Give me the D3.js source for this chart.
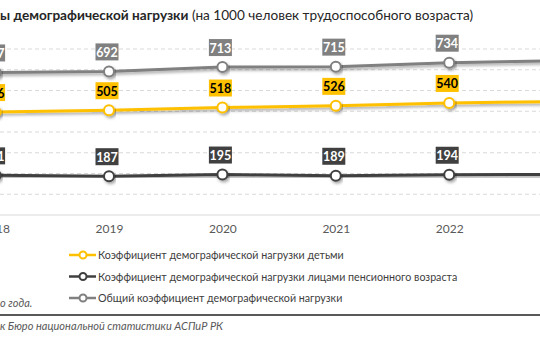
<!DOCTYPE html>
<html><head><meta charset="utf-8">
<script src="https://cdn.jsdelivr.net/npm/d3@7"></script>
<style>body{margin:0;background:#fff}svg{display:block}text{font-family:Lato,"Open Sans",sans-serif}</style>
</head><body><div id="c"></div>
<script>
const years = ["2018","2019","2020","2021","2022","2023"];
const childValues = [496, 505, 518, 526, 540, 547];
const pensionValues = [191, 187, 195, 189, 194, 196];
const totalValues = [687, 692, 713, 715, 734, 743];
const yTicks = [100,200,300,400,500,600,700,800];
const seriesNames = ["Коэффициент демографической нагрузки детьми","Коэффициент демографической нагрузки лицами пенсионного возраста","Общий коэффициент демографической нагрузки"];
const seriesColors = ["#ffc000","#404040","#808080"];
const labelText = ["#000","#fff","#fff"];

const W=540,H=338;
const svg=d3.select("#c").append("svg").attr("width",W).attr("height",H);
const defs=svg.append("defs");
const f=defs.append("filter").attr("id","sh").attr("x","-20%").attr("y","-50%").attr("width","140%").attr("height","200%");
f.append("feDropShadow").attr("dx",1.5).attr("dy",2).attr("stdDeviation",1.5).attr("flood-color","#000").attr("flood-opacity",0.35);

const x=d3.scalePoint().domain(years).range([-4.4,562.6]);
const y=d3.scaleLinear().domain([0,800]).range([215,49]);

// title
const t=svg.append("text").attr("x",0).attr("y",20).attr("font-size",13.6).attr("fill","#262626");
t.append("tspan").attr("font-weight","bold").text("ы демографической нагрузки");
t.append("tspan").text(" (на 1000 человек трудоспособного возраста)");

// gridlines
svg.append("g").selectAll("line").data(yTicks).join("line")
 .attr("x1",0).attr("x2",W).attr("y1",d=>y(d)).attr("y2",d=>y(d))
 .attr("stroke","#d9d9d9").attr("stroke-dasharray","4,3");
// x axis
const xa=svg.append("g").attr("transform",`translate(0,${y(0)})`).call(d3.axisBottom(x).tickSize(0).tickPadding(9));
xa.select(".domain").attr("stroke","#d9d9d9").attr("d",`M0,0H${W}`);
xa.selectAll("text").attr("font-size",12).attr("fill","#595959").attr("font-family","Lato,sans-serif");

const series=[childValues,pensionValues,totalValues];
const line=d3.line().x((d,i)=>x(years[i])).y(d=>y(d));
series.forEach((vals,s)=>{
  const g=svg.append("g");
  g.append("path").datum(vals).attr("d",line).attr("fill","none").attr("stroke",seriesColors[s]).attr("stroke-width",3).attr("filter","url(#sh)");
  g.selectAll("circle").data(vals).join("circle").attr("cx",(d,i)=>x(years[i])).attr("cy",d=>y(d)).attr("r",5)
   .attr("fill","#fff").attr("stroke",seriesColors[s]).attr("stroke-width",2).attr("filter","url(#sh)");
  const lb=g.selectAll("g.lb").data(vals).join("g").attr("class","lb").attr("transform",(d,i)=>`translate(${x(years[i])-2},${y(d)-19})`);
  lb.append("rect").attr("x",-11.5).attr("y",-9).attr("width",23).attr("height",17).attr("fill",seriesColors[s]);
  lb.append("text").attr("text-anchor","middle").attr("y",4.5).attr("font-size",12.5).attr("font-weight","bold").attr("fill",labelText[s]).text(d=>d);
});

// legend
const lg=svg.append("g");
seriesNames.forEach((n,i)=>{
  const yy=255+i*21.5;
  lg.append("line").attr("x1",69).attr("x2",96).attr("y1",yy).attr("y2",yy).attr("stroke",seriesColors[i]).attr("stroke-width",2.5);
  lg.append("circle").attr("cx",83).attr("cy",yy).attr("r",3.5).attr("fill","#fff").attr("stroke",seriesColors[i]).attr("stroke-width",2);
  lg.append("text").attr("x",98).attr("y",yy+4).attr("font-size",10.7).attr("fill","#404040").text(n);
});

// footer
svg.append("text").attr("x",0).attr("y",307).attr("font-size",11).attr("font-style","italic").attr("fill","#595959").text("о года.");
svg.append("line").attr("x1",0).attr("x2",W).attr("y1",315).attr("y2",315).attr("stroke","#595959").attr("stroke-width",2);
svg.append("text").attr("x",0).attr("y",330).attr("font-size",11).attr("font-style","italic").attr("fill","#595959").text("к Бюро национальной статистики АСПиР РК");
</script></body></html>
